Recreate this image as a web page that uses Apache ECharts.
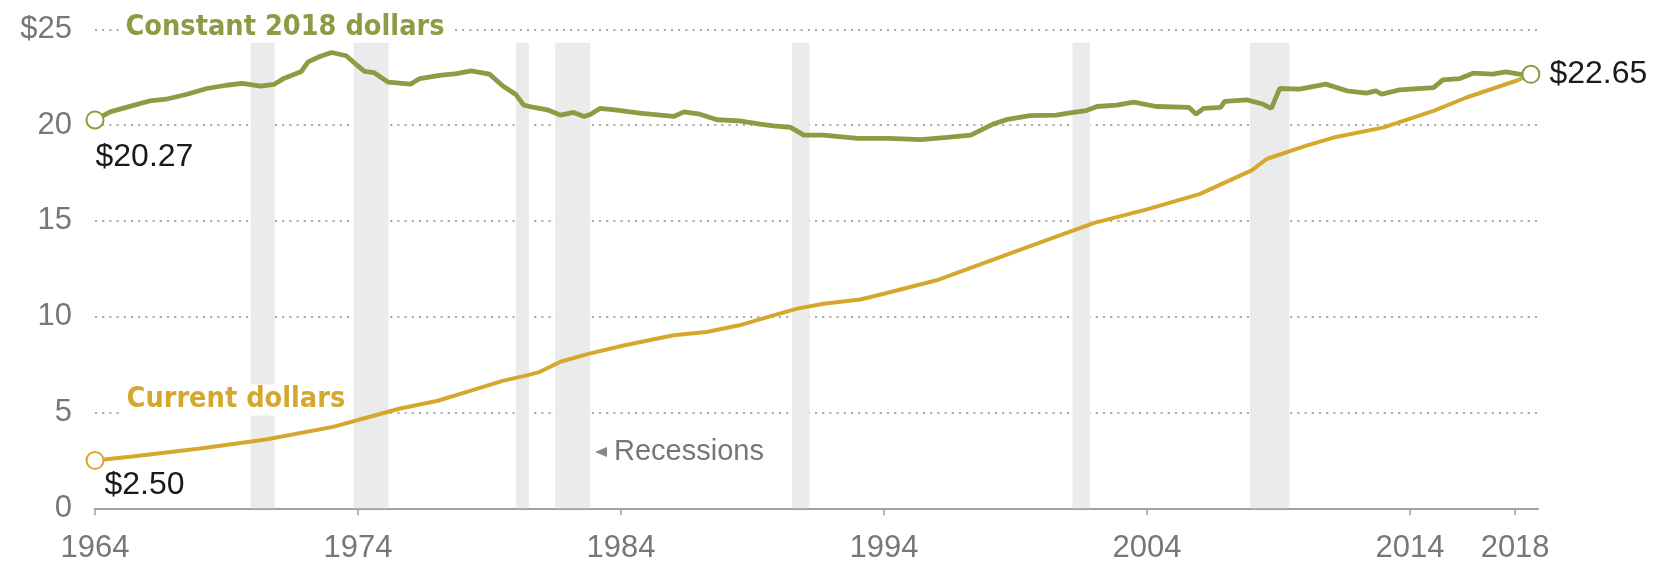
<!DOCTYPE html>
<html><head><meta charset="utf-8">
<script src="https://cdn.jsdelivr.net/npm/echarts@6/dist/echarts.min.js"></script>
<style>html,body{margin:0;padding:0;background:#fff}#c{width:1667px;height:566px}</style>
</head><body><div id="c"></div>
<script>
// ---- Data ----
const constantYears = [1964.0,1964.6,1965.5,1966.1,1966.7,1967.5,1968.25,1969.0,1969.6,1970.3,1970.8,1971.2,1971.85,1972.1,1972.55,1973.0,1973.55,1973.9,1974.25,1974.6,1975.15,1976.0,1976.35,1977.1,1977.75,1978.3,1979.0,1979.5,1980.0,1980.3,1980.7,1981.2,1981.7,1982.2,1982.6,1982.85,1983.2,1983.85,1984.7,1986.0,1986.4,1987.0,1987.65,1988.5,1989.3,1989.8,1990.45,1990.95,1991.7,1993.0,1994.2,1995.4,1996.4,1997.3,1998.15,1998.65,1999.55,2000.55,2001.2,2001.7,2002.1,2002.85,2003.5,2004.35,2005.6,2005.87,2006.15,2006.8,2006.95,2007.8,2008.4,2008.73,2009.05,2009.8,2010.8,2011.6,2012.35,2012.7,2012.92,2013.6,2014.9,2015.25,2015.9,2016.4,2017.15,2017.65,2018.15,2018.6];
const constantValues = [20.27,20.7,21.04,21.27,21.35,21.61,21.91,22.08,22.18,22.04,22.12,22.45,22.8,23.3,23.58,23.79,23.62,23.2,22.8,22.74,22.24,22.14,22.43,22.6,22.69,22.83,22.66,22.05,21.6,21.04,20.92,20.8,20.52,20.66,20.45,20.57,20.87,20.78,20.62,20.45,20.69,20.57,20.28,20.22,20.05,19.96,19.88,19.48,19.48,19.31,19.31,19.24,19.36,19.48,20.05,20.28,20.49,20.52,20.66,20.76,20.97,21.04,21.2,20.97,20.92,20.57,20.87,20.92,21.24,21.32,21.1,20.87,21.91,21.88,22.14,21.79,21.67,21.79,21.61,21.84,21.96,22.36,22.43,22.71,22.66,22.78,22.66,22.65];
const currentYears = [1964.0,1965.5,1968.0,1970.5,1973.05,1974.35,1975.6,1977.0,1978.2,1979.5,1980.3,1980.9,1981.7,1982.8,1984.1,1986.0,1987.25,1988.5,1989.8,1990.7,1991.7,1993.1,1994.0,1996.0,1998.0,2000.0,2002.0,2004.0,2006.0,2008.0,2008.55,2010.0,2011.1,2013.0,2014.9,2016.15,2018.1,2018.6];
const currentValues = [2.50,2.72,3.12,3.59,4.25,4.74,5.21,5.6,6.1,6.65,6.9,7.11,7.65,8.07,8.5,9.03,9.2,9.55,10.07,10.42,10.68,10.9,11.2,11.9,12.9,13.9,14.9,15.6,16.4,17.65,18.23,18.9,19.35,19.88,20.74,21.44,22.34,22.65];
const recessionStarts = [1969.917,1973.833,1980.0,1981.5,1990.5,2001.167,2007.917];
const recessionEnds   = [1970.833,1975.167,1980.5,1982.833,1991.167,2001.833,2009.417];
const xTickValues = [1964,1974,1984,1994,2004,2014,2018];
const yTickLabels = ['0','5','10','15','20','$25'];
const seriesNames = ['Constant 2018 dollars','Current dollars'];
const recessionLabel = 'Recessions';

// ---- Styles ----
const GREEN = '#8c9c44', GOLD = '#d5a72d';
const NUM_FONT = '"Liberation Sans", Arial, sans-serif';
const BOLD_FONT = '"DejaVu Sans Condensed", "Liberation Sans Narrow", "DejaVu Sans", sans-serif';

function buildPoints(xs, ys, color, firstLabel, lastSymbol) {
  const n = xs.length;
  return xs.map((x, i) => {
    const item = { value: [x, ys[i]] };
    if (i === 0) {
      item.symbol = 'emptyCircle'; item.symbolSize = 17;
      item.itemStyle = { color: color, borderWidth: 2.5 };
      item.label = Object.assign({ show: true, formatter: p => '$' + p.value[1].toFixed(2),
        fontFamily: NUM_FONT, fontSize: 32, color: '#1a1a1a', align: 'left', verticalAlign: 'top' }, firstLabel);
    } else if (i === n - 1 && lastSymbol) {
      item.symbol = 'emptyCircle'; item.symbolSize = 17;
      item.itemStyle = { color: color, borderWidth: 2.5 };
      item.label = { show: true, position: 'right', distance: 9, formatter: p => '$' + p.value[1].toFixed(2),
        fontFamily: NUM_FONT, fontSize: 32, color: '#1a1a1a', verticalAlign: 'middle' };
    }
    return item;
  });
}

function nameLabel(coord, text, color, padRight, dy) {
  return {
    coord: coord, symbol: 'rect', symbolSize: 1, itemStyle: { color: 'rgba(0,0,0,0)' },
    label: { show: true, position: 'right', distance: 0, offset: [0, dy], formatter: text, color: color,
      fontFamily: BOLD_FONT, fontWeight: 'bold', fontSize: 28.6, backgroundColor: '#fff',
      padding: [1, padRight, 1, 5] }
  };
}

const chart = echarts.init(document.getElementById('c'), null, { renderer: 'canvas' });
chart.setOption({
  animation: false,
  backgroundColor: '#fff',
  grid: { left: 95, right: 129, top: 29.3, bottom: 57.7, containLabel: false },
  xAxis: {
    type: 'value', min: 1964, max: 2018.87,
    axisLine: { show: true, lineStyle: { color: '#a0a0a0', width: 2 } },
    axisTick: { show: true, length: 7, customValues: xTickValues, lineStyle: { color: '#a0a0a0', width: 1.5 } },
    axisLabel: { customValues: xTickValues, margin: 25, fontFamily: NUM_FONT, fontSize: 31, color: '#777',
      formatter: v => String(v) },
    splitLine: { show: false }
  },
  yAxis: {
    type: 'value', min: 0, max: 25, interval: 5,
    axisLine: { show: false }, axisTick: { show: false },
    axisLabel: { margin: 23, fontFamily: NUM_FONT, fontSize: 31, color: '#777',
      formatter: v => yTickLabels[Math.round(v / 5)] },
    splitLine: { show: true, lineStyle: { color: '#a8a8a8', width: 2, type: [2, 5.2] } }
  },
  series: [
    {
      name: recessionLabel, type: 'line', data: [], z: 1, silent: true,
      markArea: {
        silent: true, itemStyle: { color: '#eaeceb' },
        data: recessionStarts.map((s, i) => [{ xAxis: s, yAxis: 0 }, { xAxis: recessionEnds[i], yAxis: 24.3 }])
      },
      markPoint: {
        silent: true,
        data: [{
          coord: [1983.24, 2.94], symbol: 'triangle', symbolSize: [10, 12], symbolRotate: 90,
          itemStyle: { color: '#888' },
          label: { show: true, position: 'right', distance: 7, formatter: recessionLabel,
            fontFamily: NUM_FONT, fontSize: 29, color: '#777' }
        }]
      }
    },
    {
      name: seriesNames[1], type: 'line', z: 3, symbol: 'none', showSymbol: true,
      lineStyle: { color: GOLD, width: 4 }, itemStyle: { color: GOLD },
      data: buildPoints(currentYears, currentValues, GOLD, { position: [19, 18] }, false),
      markPoint: { silent: true, data: [nameLabel([1964.99, 5.65], seriesNames[1], GOLD, 7, 0)] }
    },
    {
      name: seriesNames[0], type: 'line', z: 4, symbol: 'none', showSymbol: true,
      lineStyle: { color: GREEN, width: 4.8 }, itemStyle: { color: GREEN },
      data: buildPoints(constantYears, constantValues, GREEN, { position: [10, 31] }, true),
      markPoint: { silent: true, data: [nameLabel([1964.95, 25], seriesNames[0], GREEN, 9, -2)] }
    }
  ]
});
</script></body></html>
